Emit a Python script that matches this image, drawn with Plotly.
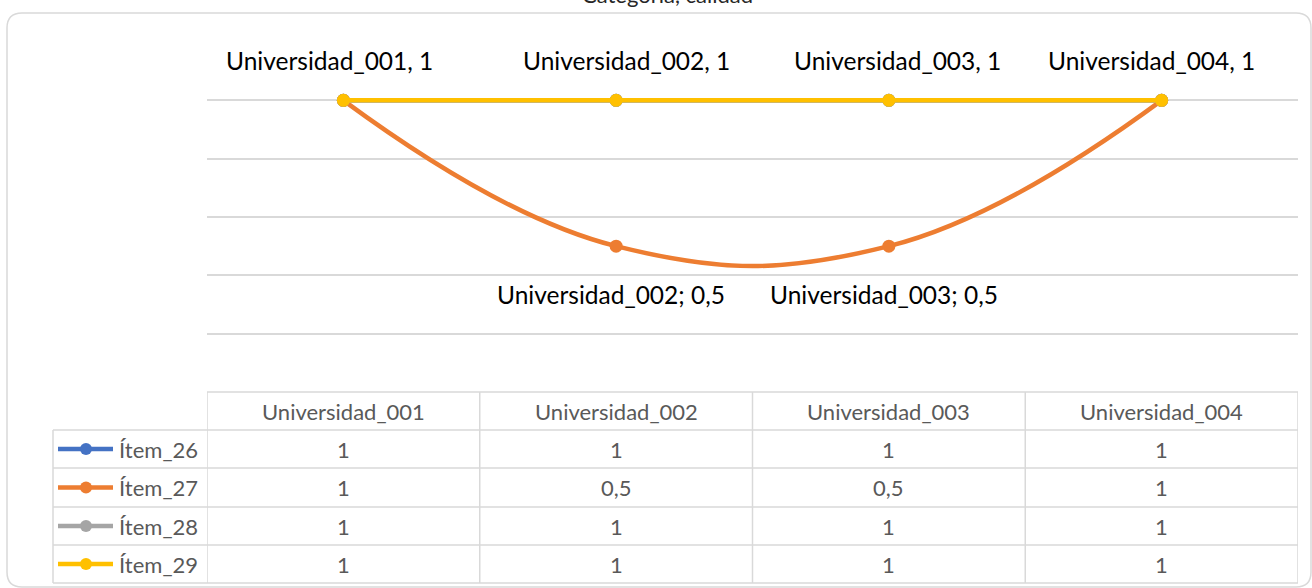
import plotly.graph_objects as go

# datos de la tabla del gráfico
universidades = ["Universidad_001", "Universidad_002", "Universidad_003", "Universidad_004"]
items = ["Ítem_26", "Ítem_27", "Ítem_28", "Ítem_29"]
item_26 = [1, 1, 1, 1]
item_27 = [1, 0.5, 0.5, 1]
item_28 = [1, 1, 1, 1]
item_29 = [1, 1, 1, 1]
colores = ["#4472C4", "#ED7D31", "#A5A5A5", "#FFC000"]
titulo = "Categoría, calidad"

series = [item_26, item_27, item_28, item_29]

W, H = 1312, 588
L, R, T, B = 207, 1298, 42, 392
PW, PH = R - L, B - T


def px_x(x):
    return (x - L) / PW


def px_y(y):
    return (B - y) / PH


def fmt(v):
    return f"{v:g}".replace(".", ",")


fig = go.Figure()
for name, vals, col in zip(items, series, colores):
    fig.add_trace(go.Scatter(
        x=universidades, y=vals, name=name, mode="lines+markers",
        line=dict(color=col, width=4.5, shape="spline", smoothing=1.2),
        marker=dict(color=col, size=13),
        showlegend=False, hoverinfo="skip"))

anots = []
lbl_font = dict(size=24.5, color="#000000")
tbl_font = dict(size=22, color="#595959")
# etiquetas de datos: Ítem_29 arriba, Ítem_27 (valores 0,5) abajo
shift_top = [-14, 10, 9, -10]
for u, v, sx in zip(universidades, item_29, shift_top):
    anots.append(dict(x=u, y=v, xref="x", yref="y", text=f"{u}, {fmt(v)}",
                      showarrow=False, yshift=40, xshift=sx, yanchor="middle",
                      xanchor="center", font=lbl_font))
for u, v in zip(universidades, item_27):
    if v < 1:
        anots.append(dict(x=u, y=v, xref="x", yref="y", text=f"{u}; {fmt(v)}",
                          showarrow=False, yshift=-48, xshift=-5, yanchor="middle",
                          xanchor="center", font=lbl_font))

# título (en el original queda cortado por el borde superior)
anots.append(dict(x=px_x(667), y=px_y(-5), xref="paper", yref="paper", text=titulo,
                  showarrow=False, font=dict(size=22, color="#262626"),
                  yanchor="middle", xanchor="center"))

shapes = []
grid = "#D9D9D9"
rows_y = [392, 430, 468, 507, 545, 583]
# tabla de datos
shapes.append(dict(type="line", xref="paper", yref="paper", x0=0, x1=1,
                   y0=px_y(392), y1=px_y(392), line=dict(color=grid, width=1.5)))
for yy in rows_y[1:]:
    shapes.append(dict(type="line", xref="paper", yref="paper", x0=px_x(53), x1=1,
                       y0=px_y(yy), y1=px_y(yy), line=dict(color=grid, width=1.5)))
for i in range(len(universidades) + 1):
    shapes.append(dict(type="line", xref="x", yref="paper", x0=i - 0.5, x1=i - 0.5,
                       y0=px_y(392), y1=px_y(583), line=dict(color=grid, width=1.5)))
shapes.append(dict(type="line", xref="paper", yref="paper", x0=px_x(53), x1=px_x(53),
                   y0=px_y(430), y1=px_y(583), line=dict(color=grid, width=1.5)))

for u in universidades:
    anots.append(dict(x=u, y=px_y(411), xref="x", yref="paper", text=u, showarrow=False,
                      yanchor="middle", xanchor="center", font=tbl_font))
for r, (name, vals, col) in enumerate(zip(items, series, colores)):
    yc = (rows_y[r + 1] + rows_y[r + 2]) / 2
    for u, v in zip(universidades, vals):
        anots.append(dict(x=u, y=px_y(yc), xref="x", yref="paper", text=fmt(v),
                          showarrow=False, yanchor="middle", xanchor="center",
                          font=tbl_font))
    anots.append(dict(x=px_x(117), y=px_y(yc), xref="paper", yref="paper", text=name,
                      xanchor="left", yanchor="middle", showarrow=False, font=tbl_font))
    shapes.append(dict(type="line", xref="paper", yref="paper", x0=px_x(58), x1=px_x(113),
                       y0=px_y(yc), y1=px_y(yc), line=dict(color=col, width=4.5)))
    shapes.append(dict(type="circle", xref="paper", yref="paper", fillcolor=col,
                       line=dict(width=0), x0=px_x(80), x1=px_x(92),
                       y0=px_y(yc - 6), y1=px_y(yc + 6)))

# borde redondeado del área del gráfico
x0, x1, y0, y1, rr = 7, 1311, 13, 587, 15
path = (f"M {px_x(x0 + rr)},{px_y(y0)} L {px_x(x1 - rr)},{px_y(y0)} "
        f"Q {px_x(x1)},{px_y(y0)} {px_x(x1)},{px_y(y0 + rr)} "
        f"L {px_x(x1)},{px_y(y1 - rr)} Q {px_x(x1)},{px_y(y1)} {px_x(x1 - rr)},{px_y(y1)} "
        f"L {px_x(x0 + rr)},{px_y(y1)} Q {px_x(x0)},{px_y(y1)} {px_x(x0)},{px_y(y1 - rr)} "
        f"L {px_x(x0)},{px_y(y0 + rr)} Q {px_x(x0)},{px_y(y0)} {px_x(x0 + rr)},{px_y(y0)} Z")
shapes.append(dict(type="path", xref="paper", yref="paper", path=path,
                   line=dict(color=grid, width=1.5)))

fig.update_layout(
    width=W, height=H,
    margin=dict(l=L, r=W - R, t=T, b=H - B),
    paper_bgcolor="white", plot_bgcolor="white",
    font=dict(family="Lato"),
    xaxis=dict(range=[-0.5, 3.5], showticklabels=False, showgrid=False, zeroline=False,
               fixedrange=True),
    yaxis=dict(range=[0, 1.2], dtick=0.2, showticklabels=False, gridcolor=grid,
               gridwidth=1.5, zeroline=False, fixedrange=True),
    annotations=anots, shapes=shapes)

# sin margen del body para que la figura ocupe toda la ventana
fig.write_html("out.html", config={"displayModeBar": False},
               post_script="document.body.style.margin = '0';")
